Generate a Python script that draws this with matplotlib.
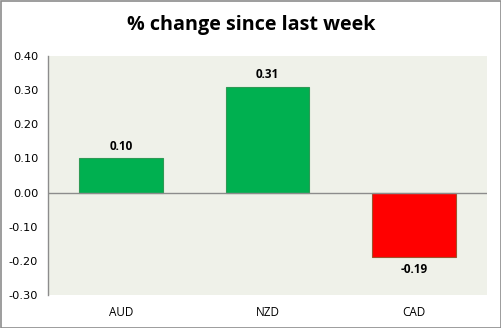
import matplotlib
matplotlib.use("Agg")
import matplotlib.pyplot as plt
from matplotlib.patches import Rectangle

categories = ["AUD", "NZD", "CAD"]
values = [0.10, 0.31, -0.19]
yticks = [-0.30, -0.20, -0.10, 0.00, 0.10, 0.20, 0.30, 0.40]
title = "% change since last week"

fig = plt.figure(figsize=(5.02, 3.28), dpi=100)
fig.patch.set_facecolor("white")
W, H = 502, 328
ax = fig.add_axes([48 / W, 1 - 295 / H, (487 - 48) / W, (295 - 56) / H])
ax.set_facecolor("#EFF1E9")

colors = ["#00B050" if v >= 0 else "#FF0000" for v in values]
edges = ["#2E9A55" if v >= 0 else "#A0522D" for v in values]
x = list(range(len(categories)))
ax.bar(x, values, width=0.57, color=colors, edgecolor=edges, linewidth=0.8, zorder=3)

ax.set_xlim(-0.5, len(categories) - 0.5)
ax.set_ylim(-0.30, 0.40)
ax.axhline(0, color="#8C8C8C", linewidth=1.0, zorder=4)

for s in ["top", "right", "bottom"]:
    ax.spines[s].set_visible(False)
ax.spines["left"].set_color("#8C8C8C")
ax.spines["left"].set_linewidth(1.0)

ax.set_yticks(yticks)
ax.set_yticklabels([f"{t:.2f}" for t in yticks], fontsize=8.2, family="DejaVu Sans")
ax.tick_params(axis="y", length=0, pad=7)
ax.set_xticks(x)
ax.set_xticklabels(categories, fontsize=8.5, family="Open Sans")
ax.tick_params(axis="x", length=0, pad=8)

for xi, v in zip(x, values):
    off = 0.016 if v >= 0 else -0.016
    ax.text(xi, v + off, f"{v:.2f}", ha="center", va="bottom" if v >= 0 else "top",
            fontsize=8.5, fontweight="bold", family="Open Sans", zorder=5)

fig.text(0.5, 1 - 25 / H, title, ha="center", va="center", fontsize=14.2,
         fontweight="bold", family="Open Sans")

fig.add_artist(Rectangle((0.5 / W, 0.5 / H), 1 - 1.5 / W, 1 - 1.5 / H, transform=fig.transFigure,
                         fill=False, edgecolor="#8C8C8C", linewidth=1.2))

fig.savefig("out.png", dpi=100)
